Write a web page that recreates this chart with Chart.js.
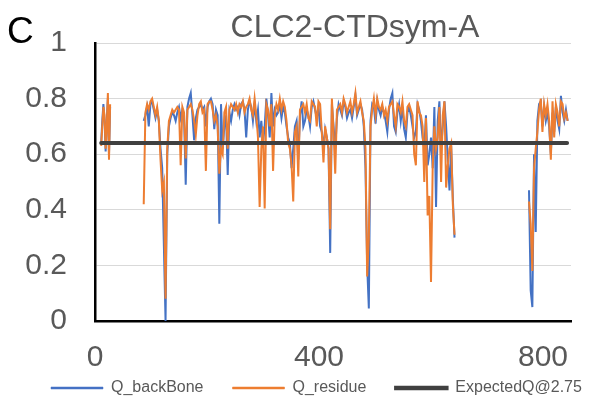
<!DOCTYPE html>
<html><head><meta charset="utf-8">
<script src="https://cdn.jsdelivr.net/npm/chart.js@4.4.1/dist/chart.umd.min.js"></script>
<style>html,body{margin:0;padding:0;background:#fff}#wrap{width:593px;height:397px;position:relative}</style>
</head><body><div id="wrap"><canvas id="c"></canvas></div>
<script>
// ---- data ----
const panelText = 'C';
const titleText = 'CLC2-CTDsym-A';
const seriesNames = ['Q_backBone', 'Q_residue', 'ExpectedQ@2.75'];
const xTickValues = [0, 400, 800];
const yTickValues = [0, 0.2, 0.4, 0.6, 0.8, 1];

// segment 1: residues 11..27 step 2
const seg1Start = 11, seg1Step = 2;
const backbone1 = [0.64, 0.72, 0.78, 0.72, 0.61, 0.72, 0.80, 0.60, 0.77];
const residueQ1 = [0.63, 0.70, 0.77, 0.74, 0.62, 0.70, 0.82, 0.58, 0.78];

// segment 2: residues 87..642 step 3
const seg2Start = 87, seg2Step = 3;
const backbone2 = [
 0.72,0.74,0.77,0.70,0.78,0.79,0.76,0.73,0.76,0.72,0.62,0.55,0.27,0.00,0.60,0.70,0.73,0.75,0.74,
 0.72,0.75,0.77,0.73,0.76,0.74,0.49,0.77,0.80,0.82,0.74,0.65,0.73,0.76,0.77,0.78,0.76,0.77,0.70,0.77,0.79,0.80,0.78,0.69,0.76,0.74,0.35,0.78,0.62,0.70,0.74,0.525,0.75,0.72,0.76,0.78,0.76,0.77,0.74,0.78,0.79,0.76,0.66,0.76,0.79,0.77,0.72,
 0.78,0.72,0.76,0.66,0.72,0.64,0.70,0.80,0.74,0.66,0.82,0.70,0.76,0.74,0.75,0.78,0.73,0.77,0.75,0.70,0.66,0.64,0.55,0.62,0.70,0.72,0.58,0.74,0.79,0.70,0.72,0.76,0.74,0.70,0.77,0.79,0.76,0.73,0.77,0.70,0.68,0.62,0.69,0.66,0.62,0.245,0.78,0.70,
 0.62,0.73,0.78,0.76,0.74,0.79,0.77,0.73,0.75,0.76,0.73,0.77,0.81,0.74,0.76,0.78,0.76,0.70,0.55,0.20,0.045,0.72,0.78,0.77,0.71,0.79,0.76,0.74,0.77,0.75,0.72,0.68,0.76,0.80,0.82,0.70,0.68,0.75,0.78,0.72,0.77,0.69,0.66,0.75,0.77,0.74,0.70,0.66,
 0.68,0.78,0.76,0.72,0.66,0.62,0.74,0.56,0.60,0.66,0.55,0.77,0.41,0.72,0.79,0.62,0.70,0.79,0.70,0.58,0.47,0.63,0.44,0.30
];
const residueQ2 = [
 0.42,0.75,0.78,0.76,0.79,0.80,0.77,0.74,0.77,0.72,0.58,0.47,0.50,0.08,0.62,0.72,0.74,0.76,0.75,
 0.76,0.77,0.76,0.56,0.77,0.75,0.585,0.76,0.77,0.78,0.76,0.72,0.67,0.74,0.78,0.79,0.75,0.76,0.54,0.78,0.79,0.79,0.76,0.72,0.74,0.70,0.53,0.62,0.60,0.75,0.77,0.62,0.76,0.78,0.77,0.76,0.78,0.75,0.78,0.77,0.79,0.75,0.77,0.78,0.80,0.76,0.74,
 0.80,0.74,0.66,0.41,0.62,0.70,0.405,0.78,0.76,0.70,0.78,0.54,0.74,0.78,0.76,0.80,0.76,0.79,0.77,0.72,0.64,0.62,0.56,0.43,0.68,0.70,0.52,0.76,0.77,0.78,0.75,0.78,0.73,0.72,0.79,0.78,0.77,0.70,0.79,0.78,0.68,0.57,0.70,0.66,0.62,0.33,0.80,0.68,
 0.53,0.76,0.77,0.78,0.75,0.80,0.78,0.75,0.77,0.79,0.75,0.78,0.82,0.75,0.77,0.79,0.75,0.72,0.62,0.16,0.30,0.70,0.76,0.80,0.74,0.80,0.77,0.76,0.78,0.74,0.76,0.72,0.77,0.78,0.79,0.74,0.70,0.78,0.77,0.75,0.79,0.72,0.70,0.77,0.78,0.76,0.74,0.60,
 0.56,0.79,0.75,0.74,0.70,0.50,0.73,0.38,0.45,0.14,0.55,0.70,0.62,0.66,0.77,0.50,0.74,0.79,0.48,0.56,0.62,0.64,0.42,0.31
];

// segment 3: residues 775..844 step 3
const seg3Start = 775, seg3Step = 3;
const backbone3 = [0.47,0.11,0.05,0.60,0.32,0.72,0.78,0.79,0.70,0.77,0.72,0.75,0.70,0.60,0.75,0.68,0.77,0.72,0.69,0.81,0.75,0.72,0.76,0.72];
const residueQ3 = [0.43,0.35,0.18,0.55,0.62,0.68,0.76,0.80,0.68,0.78,0.74,0.78,0.72,0.58,0.79,0.66,0.78,0.75,0.70,0.79,0.78,0.73,0.75,0.72];

const expectedX = [11, 843];
const expectedQ = [0.64, 0.64];

// ---- build point lists ----
function seg(start, step, vals) { return vals.map((v, i) => ({x: start + i * step, y: v})); }
function joinSegs(parts) {
  const out = [];
  parts.forEach((p, k) => {
    if (k > 0) out.push({x: out[out.length - 1].x + 1, y: null});
    out.push(...p);
  });
  return out;
}
const bbPoints = joinSegs([seg(seg1Start, seg1Step, backbone1), seg(seg2Start, seg2Step, backbone2), seg(seg3Start, seg3Step, backbone3)]);
const rqPoints = joinSegs([seg(seg1Start, seg1Step, residueQ1), seg(seg2Start, seg2Step, residueQ2), seg(seg3Start, seg3Step, residueQ3)]);
const expPoints = expectedX.map((x, i) => ({x, y: expectedQ[i]}));

const FONT = '"Liberation Sans", Arial, sans-serif';
const GRAY = '#595959';
const LEGEND_X = 51, LEGEND_Y = 388;
const TITLE_CX = 355, TITLE_CY = 28;

const placePlugin = {
  id: 'place',
  afterLayout(chart) {
    const lg = chart.legend;
    if (lg && lg.lineWidths) {
      const p = lg.options.labels.padding;
      const startX = (lg.left + p + lg.right - lg.lineWidths[0]) / 2;
      const dx = LEGEND_X - startX;
      lg.left += dx; lg.right += dx;
      lg.top = LEGEND_Y - p - 8;
      lg.bottom = chart.height;
      lg.height = lg.bottom - lg.top;
    }
    const tb = chart.titleBlock;
    if (tb) {
      const lh = tb.options.font.size * 1.2;
      const dx = TITLE_CX - (tb.left + tb.right) / 2;
      const dy = TITLE_CY - (tb.top + lh / 2);
      tb.left += dx; tb.right += dx; tb.top += dy; tb.bottom += dy;
    }
  },
  afterDraw(chart) {
    const ctx = chart.ctx;
    ctx.save();
    ctx.font = '37px ' + FONT;
    ctx.fillStyle = '#000';
    ctx.textAlign = 'left';
    ctx.textBaseline = 'alphabetic';
    ctx.fillText(panelText, 7, 43);
    ctx.restore();
  }
};

new Chart(document.getElementById('c'), {
  type: 'line',
  data: {
    datasets: [
      {label: seriesNames[0], data: bbPoints, borderColor: '#4472C4', backgroundColor: '#4472C4', borderWidth: 2, pointRadius: 0, order: 3, spanGaps: false},
      {label: seriesNames[1], data: rqPoints, borderColor: '#ED7D31', backgroundColor: '#ED7D31', borderWidth: 2, pointRadius: 0, order: 2, spanGaps: false},
      {label: seriesNames[2], data: expPoints, borderColor: '#404040', backgroundColor: '#404040', borderWidth: 4, borderCapStyle: 'round', pointRadius: 0, order: 1}
    ]
  },
  options: {
    responsive: true,
    maintainAspectRatio: false,
    animation: false,
    events: [],
    layout: {padding: 0},
    plugins: {
      tooltip: {enabled: false},
      title: {display: true, text: titleText, color: GRAY, font: {family: FONT, size: 32, weight: 'normal'}, padding: 0},
      legend: {
        position: 'bottom',
        maxHeight: 20,
        labels: {
          font: {family: FONT, size: 16},
          color: GRAY,
          boxWidth: 52,
          boxHeight: 2,
          padding: 29,
          sort: (a, b) => a.datasetIndex - b.datasetIndex,
          generateLabels(chart) {
            const items = Chart.defaults.plugins.legend.labels.generateLabels(chart);
            items.forEach(it => {
              const ds = chart.data.datasets[it.datasetIndex];
              it.fillStyle = ds.borderColor;
              it.strokeStyle = ds.borderColor;
              it.lineWidth = it.datasetIndex === 2 ? 2.5 : 0.5;
            });
            return items;
          }
        }
      }
    },
    scales: {
      x: {
        type: 'linear',
        min: 0, max: 850,
        grid: {display: false, drawTicks: false},
        border: {display: true, color: '#000', width: 2.5},
        ticks: {stepSize: 400, includeBounds: false, autoSkip: false, color: GRAY, font: {family: FONT, size: 30}, padding: 19, maxRotation: 0,
                callback: v => String(v)},
        afterBuildTicks(s) { s.ticks = xTickValues.map(v => ({value: v})); },
        afterFit(s) { s.height = 56; s.paddingRight = 22; s.paddingLeft = 0; }
      },
      y: {
        min: 0, max: 1,
        grid: {color: '#d9d9d9', lineWidth: 1, drawTicks: false},
        border: {display: true, color: '#000', width: 2.5},
        ticks: {stepSize: 0.2, autoSkip: false, color: GRAY, font: {family: FONT, size: 30}, padding: 28,
                callback: v => String(Math.round(v * 10) / 10)},
        afterBuildTicks(s) { s.ticks = yTickValues.map(v => ({value: v})); },
        afterFit(s) { s.width = 95; s.paddingTop = 43; s.paddingBottom = 0; }
      }
    }
  },
  plugins: [placePlugin]
});
</script>
</body></html>
